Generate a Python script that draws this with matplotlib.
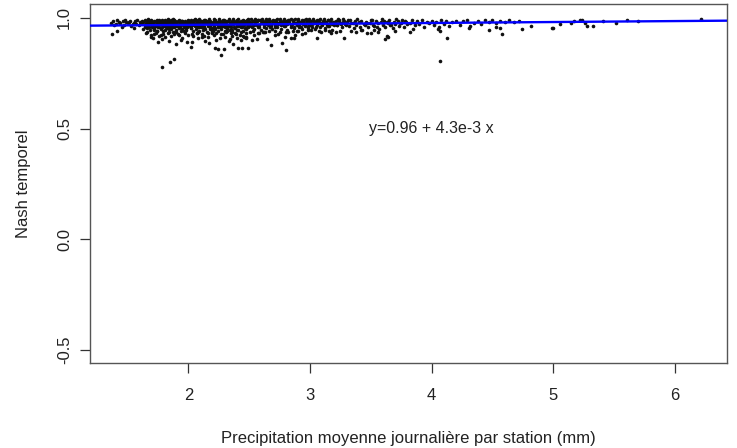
import matplotlib
matplotlib.use("Agg")
import matplotlib.pyplot as plt

# ---- data ----
seg_a_x = [1.36,1.38,1.40,1.41,1.43,1.44,1.46,1.47,1.49,1.50,1.52,1.53,1.55,1.56,1.57,1.58,1.59,1.60,1.61,1.62,1.45,1.51,1.54,1.39,1.48]
seg_a_y = [0.978,0.985,0.972,0.990,0.981,0.976,0.988,0.969,0.983,0.975,0.986,0.962,0.979,0.984,0.971,0.990,0.966,0.982,0.975,0.987,0.958,0.980,0.973,0.967,0.991]

seg_b_x = [1.63,1.64,1.64,1.65,1.66,1.66,1.67,1.68,1.68,1.69,
           1.70,1.70,1.71,1.72,1.72,1.73,1.74,1.74,1.75,1.76,
           1.76,1.77,1.78,1.78,1.79,1.80,1.80,1.81,1.82,1.82,
           1.83,1.84,1.84,1.85,1.86,1.86,1.87,1.88,1.88,1.89,
           1.90,1.90,1.91,1.92,1.92,1.93,1.94,1.94,1.95,1.96,
           1.96,1.97,1.98,1.98,1.99,2.00,1.65,1.67,1.69,1.71,
           1.73,1.75,1.77,1.79,1.81,1.83,1.85,1.87,1.89,1.91,
           1.93,1.95,1.97,1.99,1.64,1.68,1.72,1.76,1.80,1.84,
           1.88,1.92,1.96,2.00,1.66,1.70,1.74,1.78,1.82,1.86,
           1.90,1.94,1.98,1.63,1.67,1.71,1.75,1.79,1.83,1.87]
seg_b_y = [0.982,0.961,0.990,0.975,0.953,0.986,0.969,0.979,0.944,0.991,
           0.957,0.983,0.972,0.948,0.988,0.965,0.977,0.939,0.984,0.960,
           0.992,0.951,0.974,0.986,0.943,0.980,0.963,0.989,0.955,0.971,
           0.985,0.936,0.978,0.966,0.990,0.949,0.982,0.958,0.973,0.987,
           0.945,0.976,0.962,0.991,0.953,0.981,0.967,0.940,0.985,0.970,
           0.957,0.988,0.946,0.979,0.964,0.983,0.931,0.994,0.925,0.967,
           0.933,0.959,0.981,0.928,0.947,0.993,0.955,0.938,0.962,0.929,
           0.975,0.950,0.934,0.958,0.970,0.987,0.944,0.976,0.968,0.952,
           0.926,0.972,0.942,0.990,0.979,0.964,0.989,0.961,0.984,0.977,
           0.935,0.988,0.956,0.952,0.973,0.980,0.968,0.976,0.960,0.993]

seg_c_x = [2.01,2.02,2.02,2.03,2.04,2.04,2.05,2.06,2.06,2.07,
           2.08,2.08,2.09,2.10,2.10,2.11,2.12,2.12,2.13,2.14,
           2.14,2.15,2.16,2.16,2.17,2.18,2.18,2.19,2.20,2.20,
           2.21,2.22,2.22,2.23,2.24,2.24,2.25,2.26,2.26,2.27,
           2.28,2.28,2.29,2.30,2.30,2.31,2.32,2.32,2.33,2.34,
           2.34,2.35,2.36,2.36,2.37,2.38,2.38,2.39,2.40,2.40,
           2.41,2.42,2.42,2.43,2.44,2.44,2.45,2.46,2.46,2.47,
           2.48,2.48,2.49,2.50,2.03,2.07,2.11,2.15,2.19,2.23,
           2.27,2.31,2.35,2.39,2.43,2.47,2.05,2.09,2.13,2.17,
           2.21,2.25,2.29,2.33,2.37,2.41,2.45,2.49,2.01,2.06,
           2.12,2.18,2.24,2.30,2.36,2.42,2.48,2.04,2.10,2.16,
           2.22,2.28,2.34,2.40,2.46,2.08,2.20,2.32,2.44,2.26]
seg_c_y = [0.978,0.955,0.989,0.966,0.941,0.984,0.972,0.950,0.991,0.963,
           0.980,0.937,0.975,0.958,0.987,0.969,0.946,0.982,0.961,0.990,
           0.952,0.977,0.934,0.985,0.967,0.957,0.988,0.944,0.974,0.983,
           0.962,0.991,0.948,0.979,0.970,0.939,0.986,0.959,0.976,0.951,
           0.989,0.965,0.981,0.943,0.973,0.987,0.956,0.968,0.992,0.947,
           0.979,0.960,0.985,0.936,0.971,0.983,0.954,0.977,0.990,0.962,
           0.945,0.981,0.968,0.957,0.988,0.974,0.940,0.984,0.966,0.952,
           0.979,0.991,0.961,0.973,0.929,0.932,0.927,0.938,0.930,0.933,
           0.926,0.935,0.931,0.928,0.936,0.930,0.993,0.994,0.992,0.995,
           0.993,0.994,0.992,0.995,0.993,0.994,0.992,0.993,0.964,0.976,
           0.958,0.949,0.981,0.964,0.945,0.970,0.958,0.987,0.969,0.980,
           0.955,0.975,0.966,0.947,0.986,0.960,0.942,0.953,0.959,0.971]

seg_d_x = [2.51,2.52,2.53,2.54,2.55,2.56,2.57,2.58,2.59,2.60,
           2.61,2.62,2.63,2.64,2.65,2.66,2.67,2.68,2.69,2.70,
           2.71,2.72,2.73,2.74,2.75,2.76,2.77,2.78,2.79,2.80,
           2.81,2.82,2.83,2.84,2.85,2.86,2.87,2.88,2.89,2.90,
           2.91,2.92,2.93,2.94,2.95,2.96,2.97,2.98,2.99,3.00,
           3.01,3.02,3.03,3.04,3.05,3.06,3.07,3.08,3.09,3.10,
           3.11,3.12,3.13,3.14,3.15,3.16,3.17,3.18,3.19,3.20,
           2.515,2.545,2.575,2.605,2.635,2.665,2.695,2.725,2.755,2.785,
           2.815,2.845,2.875,2.905,2.935,2.965,2.995,3.025,3.055,3.085,
           3.115,3.145,3.175,2.53,2.62,2.71,2.80,2.89,2.98,3.07,3.16,2.57,2.75]
seg_d_y = [0.981,0.963,0.988,0.952,0.974,0.985,0.958,0.970,0.990,0.944,
           0.977,0.966,0.986,0.955,0.979,0.991,0.961,0.973,0.948,0.984,
           0.968,0.989,0.957,0.976,0.983,0.951,0.972,0.987,0.962,0.980,
           0.946,0.975,0.990,0.959,0.971,0.984,0.953,0.978,0.966,0.988,
           0.960,0.982,0.949,0.974,0.991,0.964,0.979,0.956,0.985,0.970,
           0.987,0.961,0.976,0.950,0.983,0.967,0.989,0.958,0.978,0.972,
           0.985,0.954,0.980,0.966,0.990,0.962,0.976,0.947,0.983,0.969,
           0.993,0.994,0.992,0.995,0.993,0.994,0.992,0.995,0.993,0.994,
           0.992,0.993,0.995,0.994,0.992,0.993,0.994,0.995,0.992,0.993,
           0.994,0.992,0.993,0.940,0.938,0.943,0.936,0.941,0.944,0.939,0.942,0.932,0.935]

seg_e_x = [3.21,3.22,3.24,3.25,3.26,3.28,3.29,3.30,3.32,3.33,
           3.34,3.36,3.37,3.38,3.40,3.41,3.42,3.44,3.45,3.46,
           3.48,3.49,3.50,3.52,3.53,3.54,3.56,3.57,3.58,3.60,
           3.61,3.62,3.64,3.65,3.66,3.68,3.69,3.70,3.72,3.73,
           3.74,3.76,3.77,3.78,3.80,3.23,3.27,3.31,3.35,3.39,
           3.43,3.47,3.51,3.55,3.59,3.63,3.67,3.71,3.75,3.79]
seg_e_y = [0.984,0.967,0.990,0.975,0.958,0.986,0.971,0.980,0.963,0.989,
           0.976,0.953,0.985,0.969,0.982,0.960,0.988,0.974,0.966,0.983,
           0.957,0.979,0.990,0.970,0.962,0.986,0.975,0.948,0.981,0.967,
           0.985,0.959,0.977,0.989,0.970,0.954,0.983,0.973,0.987,0.964,
           0.978,0.990,0.960,0.984,0.972,0.993,0.994,0.992,0.978,0.993,
           0.944,0.979,0.991,0.961,0.994,0.982,0.969,0.993,0.976,0.981]

seg_f_x = [3.82,3.84,3.86,3.88,3.90,3.92,3.94,3.96,3.98,4.00,
           4.02,4.04,4.06,4.08,4.10,4.12,4.14,4.17,4.20,4.23,
           4.26,4.29,4.32,4.35,4.38,4.41,4.44,4.47,4.50,4.53,
           4.56,4.60,4.64,4.68,4.72]
seg_f_y = [0.978,0.989,0.967,0.984,0.972,0.990,0.960,0.982,0.975,0.987,
           0.969,0.983,0.957,0.990,0.974,0.985,0.964,0.980,0.988,0.970,
           0.984,0.991,0.962,0.978,0.986,0.973,0.989,0.981,0.991,0.976,
           0.987,0.983,0.990,0.980,0.985]

seg_g_x = [1.652,1.661,1.673,1.684,1.689,1.697,1.708,1.716,1.729,1.733,
           1.745,1.752,1.764,1.771,1.783,1.788,1.799,1.806,1.818,1.827,
           1.834,1.846,1.851,1.863,1.872,1.879,1.891,1.898,1.907,1.916,
           1.928,1.933,1.947,1.952,1.961,1.974,1.983,1.991,2.003,2.012,
           2.019,2.031,2.038,2.047,2.056,2.068,2.073,2.085,2.094,2.101,
           2.113,2.122,2.131,2.139,2.148,2.157,2.166,2.178,2.184,2.196,
           2.207,2.213,2.225,2.232,2.244,2.253,2.261,2.272,2.279,2.291,
           2.298,2.309,2.318,2.327,2.335,2.346,2.354,2.363,2.371,2.382,
           2.389,2.401,2.408,2.417,2.428,2.436,2.447,2.453,2.465,2.472,
           2.484,2.493,2.502,2.511,2.523,2.531,2.542,2.551,2.563,2.572,
           2.584,2.596,2.607,2.618,2.629,2.641,2.652,2.663,2.676,2.688,
           2.699,2.712,2.724,2.737,2.749,2.761,2.776,2.788,2.801,2.814,
           2.827,2.841,2.856,2.869,2.883,2.897,2.912,2.926,2.941,2.955,
           2.971,2.986,3.002,3.017,3.033,3.048,3.064,3.081,3.097,3.114,
           3.131,3.148,3.166,3.183,3.201,3.219,3.238,3.256,3.275,3.294]
seg_g_y = [0.968,0.983,0.959,0.975,0.988,0.964,0.979,0.957,0.986,0.971,
           0.962,0.981,0.976,0.956,0.989,0.967,0.984,0.973,0.960,0.978,
           0.987,0.965,0.982,0.958,0.974,0.990,0.969,0.980,0.963,0.985,
           0.972,0.958,0.988,0.976,0.966,0.983,0.961,0.978,0.986,0.969,
           0.955,0.982,0.973,0.989,0.964,0.977,0.984,0.959,0.971,0.987,
           0.966,0.980,0.957,0.975,0.988,0.962,0.983,0.970,0.978,0.956,
           0.986,0.967,0.981,0.974,0.960,0.989,0.972,0.965,0.984,0.977,
           0.958,0.982,0.969,0.987,0.963,0.979,0.971,0.985,0.957,0.976,
           0.988,0.966,0.981,0.962,0.974,0.986,0.968,0.979,0.955,0.983,
           0.972,0.987,0.964,0.978,0.960,0.985,0.970,0.982,0.967,0.989,
           0.961,0.976,0.984,0.958,0.973,0.986,0.969,0.980,0.963,0.987,
           0.975,0.959,0.983,0.971,0.988,0.966,0.978,0.962,0.985,0.973,
           0.981,0.968,0.989,0.960,0.976,0.984,0.970,0.958,0.982,0.974,
           0.987,0.965,0.979,0.972,0.986,0.961,0.983,0.975,0.968,0.988,
           0.977,0.963,0.985,0.971,0.980,0.966,0.987,0.974,0.982,0.969]

seg_h_x = [1.66,1.69,1.72,1.74,1.77,1.81,1.83,1.86,1.89,1.92,
           1.95,1.97,2.00,2.04,2.07,2.09,2.13,2.16,2.19,2.26,
           2.28,2.32,2.36,2.38,2.42,2.46,2.51,2.54,2.56,2.61,
           2.66,2.71,2.79,2.86,2.93,3.01,3.09,3.17,3.25,3.38,
           3.53,3.70,1.84,1.94,2.03,2.17,2.33,2.52,2.65,2.88]
seg_h_y = [0.935,0.915,0.928,0.941,0.922,0.912,0.933,0.919,0.937,0.925,
           0.911,0.939,0.921,0.917,0.930,0.942,0.920,0.913,0.935,0.911,
           0.927,0.940,0.919,0.933,0.925,0.914,0.938,0.922,0.907,0.935,
           0.941,0.925,0.916,0.939,0.927,0.944,0.936,0.930,0.942,0.935,
           0.946,0.943,0.895,0.902,0.893,0.886,0.897,0.899,0.905,0.921]

tail_x = [1.37,1.41,1.55,1.71,1.75,1.78,1.76,1.90,1.99,2.02,2.22,2.24,2.27,2.29,2.37,2.41,2.44,
          2.08,2.11,2.14,2.21,2.23,2.30,2.34,2.40,2.45,2.47,
          2.49,2.43,2.47,2.68,2.77,2.80,2.84,2.87,3.06,3.28,3.47,3.50,3.62,3.63,
          2.58,2.63,2.74,2.82,2.90,2.96,3.12,3.21,3.34,3.42,3.56,
          3.64,3.82,3.85,4.05,4.07,4.13,4.31,4.47,4.53,4.56,4.58,4.74,4.82,
          4.99,5.00,5.06,5.15,5.17,5.22,5.24,5.26,5.28,5.33,5.41,5.52,5.61,5.70,6.22]
tail_y = [0.926,0.941,0.953,0.908,0.890,0.904,0.919,0.881,0.890,0.869,0.863,0.858,0.833,0.858,0.881,0.863,0.863,
          0.908,0.915,0.896,0.923,0.900,0.915,0.904,0.908,0.920,0.908,
          0.863,0.900,0.913,0.878,0.886,0.854,0.908,0.910,0.911,0.908,0.930,0.930,0.904,0.920,
          0.931,0.938,0.926,0.938,0.941,0.931,0.946,0.938,0.941,0.946,0.938,
          0.915,0.938,0.949,0.950,0.941,0.911,0.953,0.946,0.961,0.956,0.929,0.950,0.965,
          0.956,0.953,0.971,0.976,0.986,0.991,0.991,0.979,0.964,0.964,0.986,0.979,0.991,0.986,0.994]

outlier_x = [1.78, 1.85, 1.88, 4.07]
outlier_y = [0.778, 0.800, 0.813, 0.805]

intercept = 0.96
slope = 4.3e-3
xlim = (1.19, 6.43)
ylim = (-0.56, 1.063)
xticks = [2, 3, 4, 5, 6]
yticks = [-0.5, 0.0, 0.5, 1.0]
ytick_labels = ["-0.5", "0.0", "0.5", "1.0"]
xlabel = "Precipitation moyenne journalière par station (mm)"
ylabel = "Nash temporel"
eq_text = "y=0.96 + 4.3e-3 x"

plt.rcParams["font.family"] = ["Liberation Sans", "DejaVu Sans"]

fig = plt.figure(figsize=(7.37, 4.48), dpi=100)
ax = fig.add_axes([90/737, 1 - 363/448, 637/737, 359/448])

xs = (seg_a_x + seg_b_x + seg_c_x + seg_d_x + seg_e_x + seg_f_x + seg_g_x + seg_h_x
      + tail_x + outlier_x)
ys = (seg_a_y + seg_b_y + seg_c_y + seg_d_y + seg_e_y + seg_f_y + seg_g_y + seg_h_y
      + tail_y + outlier_y)
ax.plot(xs, ys, linestyle="none", marker="o", markersize=2.6, color="#111111",
        markeredgewidth=0, zorder=2)

ax.axline((0, intercept), slope=slope, color="#0000ff", linewidth=1.7, zorder=3)

ax.text(4.0, 0.5, eq_text, ha="center", va="center", fontsize=11.5, color="#222222")

ax.set_xlim(*xlim)
ax.set_ylim(*ylim)
ax.set_xticks(xticks)
ax.set_yticks(yticks)
ax.set_yticklabels(ytick_labels, rotation=90, va="center")
ax.tick_params(direction="out", length=7, width=0.9, color="#333333",
               labelsize=12, labelcolor="#222222")
ax.tick_params(axis="x", pad=11)
ax.tick_params(axis="y", pad=6)
for s in ax.spines.values():
    s.set_color("#555555")
    s.set_linewidth(1.0)
ax.set_xlabel(xlabel, fontsize=12, labelpad=20, color="#222222")
ax.set_ylabel(ylabel, fontsize=12, labelpad=19, color="#222222")

fig.savefig("out.png", dpi=100)
